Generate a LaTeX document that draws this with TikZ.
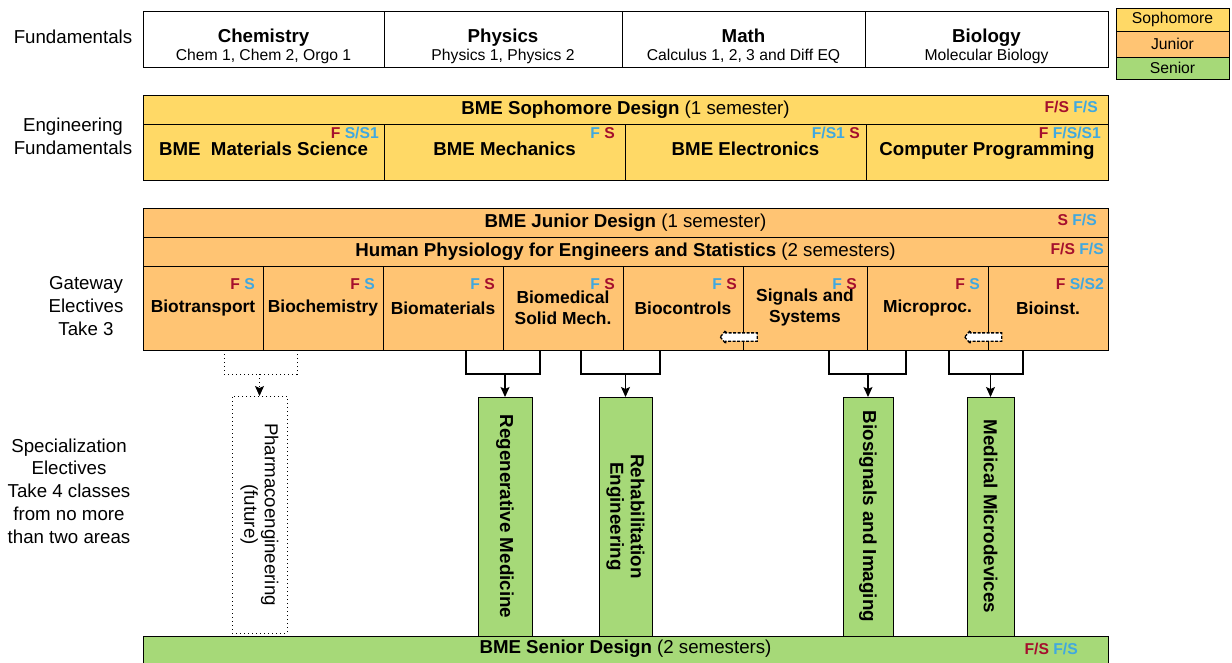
\documentclass[tikz,border=0pt]{standalone}
\usepackage{fontspec}
\setmainfont{Liberation Sans}
\usetikzlibrary{positioning, arrows.meta, shapes.arrows}
\definecolor{sophcol}{HTML}{FFD966}
\definecolor{junrcol}{HTML}{FFC473}
\definecolor{senrcol}{HTML}{A6D978}
\definecolor{fsred}{HTML}{A50F2D}
\definecolor{fsblue}{HTML}{40A8E0}
\tikzset{
    x=1pt, y=-1pt, % one unit is one pixel of the chart, y runs downwards
    >={Stealth[length=10pt, width=9pt, inset=2pt]}, % block arrow heads
    line width=1.1pt,
    box/.style={draw, inner sep=0pt, outer sep=0pt, anchor=north west, align=center,
        font=\bfseries\fontsize{18.7}{21}\selectfont}, % every course box
    soph/.style={box, fill=sophcol},
    junr/.style={box, fill=junrcol},
    gate/.style={junr, minimum height=84, font=\bfseries\fontsize{17.4}{21}\selectfont}, % gateway electives
    senr/.style={box, fill=senrcol},
    fund/.style={box, fill=white},
    legend/.style={box, fill=#1, font=\fontsize{15.7}{18}\selectfont},
    fs/.style={anchor=east, inner sep=0pt, font=\bfseries\fontsize{15.7}{18}\selectfont}, % semester offered
    side/.style={align=center, inner sep=0pt, font=\fontsize{18.7}{22.7}\selectfont}, % row titles on the left
    ftitle/.style={anchor=base, inner sep=0pt, font=\bfseries\fontsize{18.7}{21}\selectfont},
    fsub/.style={anchor=base, inner sep=0pt, font=\fontsize{15.7}{18}\selectfont},
    vtext/.style={rotate=-90, align=center, inner sep=0pt, font=\bfseries\fontsize{18.8}{20.5}\selectfont},
    link/.style={line width=1.2pt},
    dotlink/.style={line width=1pt, dash pattern=on 1pt off 3pt},
    prereq/.style={single arrow, draw, fill=white, inner xsep=0pt, inner ysep=3.5pt, shape border rotate=180,
        minimum height=37pt, single arrow head extend=2.5pt, single arrow tip angle=100,
        line width=1.3pt, dash pattern=on 3pt off 1.5pt},
}
\newcommand{\rd}[1]{\textcolor{fsred}{#1}}
\newcommand{\bl}[1]{\textcolor{fsblue}{#1}}

\begin{document}
\begin{tikzpicture}
\useasboundingbox (0,0) rectangle (1232,663);

% row titles
\node[side] (lfund) at (73,37)  {Fundamentals};
\node[side] (leng)  at (73,136) {Engineering\\Fundamentals};
\node[side] (lgate) at (86,306) {Gateway\\Electives\\Take 3};
\node[side] (lspec) at (69,491) {Specialization\\Electives\\Take 4 classes\\from no more\\than two areas};

% legend
\node[legend=sophcol, minimum width=113, minimum height=23] (lsoph) at (1116,8)  {Sophomore};
\node[legend=junrcol, minimum width=113, minimum height=26] (ljunr) at (1116,31) {Junior};
\node[legend=senrcol, minimum width=113, minimum height=22] (lsenr) at (1116,57) {Senior};

% fundamentals
\node[fund, minimum width=241, minimum height=56] (chem) at (143,11) {};
\node[fund, minimum width=238, minimum height=56] (phys) at (384,11) {};
\node[fund, minimum width=243, minimum height=56] (math) at (622,11) {};
\node[fund, minimum width=243, minimum height=56] (biol) at (865,11) {};
\node[ftitle] (chemt) at (263.5,43) {Chemistry};
\node[fsub]   (chems) at (263.5,61) {Chem 1, Chem 2, Orgo 1};
\node[ftitle] (physt) at (503,43)   {Physics};
\node[fsub]   (physs) at (503,61)   {Physics 1, Physics 2};
\node[ftitle] (matht) at (743.5,43) {Math};
\node[fsub]   (maths) at (743.5,61) {Calculus 1, 2, 3 and Diff EQ};
\node[ftitle] (biolt) at (986.5,43) {Biology};
\node[fsub]   (biols) at (986.5,61) {Molecular Biology};

% engineering fundamentals
\node[soph, minimum width=965, minimum height=29] (sophd) at (143,95) {BME Sophomore Design \mdseries(1 semester)};
\node[soph, minimum width=241, minimum height=56, text depth=6pt] (matsci) at (143,124) {BME\ \ Materials Science};
\node[soph, minimum width=241, minimum height=56, text depth=6pt] (mech)   at (384,124) {BME Mechanics};
\node[soph, minimum width=241, minimum height=56, text depth=6pt] (elec)   at (625,124) {BME Electronics};
\node[soph, minimum width=242, minimum height=56, text depth=6pt] (comp)   at (866,124) {Computer Programming};
\node[fs] (sophfs) at (1098,107) {\rd{F/S} \bl{F/S}};
\node[fs] (matfs)  at (379,133)  {\rd{F} \bl{S/S1}};
\node[fs] (mechfs) at (615,133)  {\bl{F} \rd{S}};
\node[fs] (elecfs) at (860,133)  {\bl{F/S1} \rd{S}};
\node[fs] (compfs) at (1101,133) {\rd{F} \bl{F/S/S1}};

% gateway electives
\node[junr, minimum width=965, minimum height=29] (junrd) at (143,208) {BME Junior Design \mdseries(1 semester)};
\node[junr, minimum width=965, minimum height=29] (physio) at (143,237) {Human Physiology for Engineers and Statistics \mdseries(2 semesters)};
\node[gate, minimum width=120] (btrans) at (143,266) {Biotransport};
\node[gate, minimum width=120] (bchem)  at (263,266) {Biochemistry};
\node[gate, minimum width=120] (bmat)   at (383,266) {Biomaterials};
\node[gate, minimum width=120] (bsolid) at (503,266) {Biomedical\\Solid Mech.};
\node[gate, minimum width=120] (bctrl)  at (623,266) {Biocontrols};
\node[gate, minimum width=124] (sigsys) at (743,266) {Signals and\\Systems};
\node[gate, minimum width=121] (mproc)  at (867,266) {Microproc.};
\node[gate, minimum width=120] (binst)  at (988,266) {Bioinst.};
\node[fs] (junfs)  at (1097,220) {\rd{S} \bl{F/S}};
\node[fs] (physfs) at (1104,249) {\rd{F/S} \bl{F/S}};
\node[fs] (btfs) at (255,284)  {\rd{F} \bl{S}};
\node[fs] (bcfs) at (375,284)  {\rd{F} \bl{S}};
\node[fs] (bmfs) at (495,284)  {\bl{F} \rd{S}};
\node[fs] (bsfs) at (615,284)  {\bl{F} \rd{S}};
\node[fs] (ctfs) at (737,284)  {\bl{F} \rd{S}};
\node[fs] (ssfs) at (857,284)  {\bl{F} \rd{S}};
\node[fs] (mpfs) at (980,284)  {\rd{F} \bl{S}};
\node[fs] (bifs) at (1104,284) {\rd{F} \bl{S/S2}};
\node[prereq] (pre1) at (740.5,337) {};
\node[prereq] (pre2) at (985,337) {};

% senior design
\node[senr, minimum width=965, minimum height=40] (senrd) at (143,636) {};
\node[inner sep=0pt, font=\bfseries\fontsize{18.7}{21}\selectfont] (senrt) at (625.5,649) {BME Senior Design \mdseries(2 semesters)};
\node[fs] (senfs) at (1078,649) {\rd{F/S} \bl{F/S}};

% specialization electives
\node[box, dotlink, minimum width=55, minimum height=237] (pharma) at (232,396) {};
\node[senr, minimum width=54, minimum height=239] (regen)  at (478,397) {};
\node[senr, minimum width=53, minimum height=239] (rehab)  at (599,397) {};
\node[senr, minimum width=50, minimum height=239] (biosig) at (843,397) {};
\node[senr, minimum width=47, minimum height=239] (medic)  at (967,397) {};
\node[vtext, font=\fontsize{18.7}{20.5}\selectfont] (pharmat) at (pharma) {Pharmacoengineering\\(future)};
\node[vtext] (regent)  at (regen)  {Regenerative Medicine};
\node[vtext] (rehabt)  at (rehab)  {Rehabilitation\\Engineering};
\node[vtext] (biosigt) at (biosig) {Biosignals and Imaging};
\node[vtext] (medict)  at (medic)  {Medical Microdevices};

% which electives lead to which area
\coordinate (ph1) at (224,350);  \coordinate (ph2) at (297,350);  \coordinate (phm) at (259.5,374);
\coordinate (rg1) at (466,350);  \coordinate (rg2) at (540,350);  \coordinate (rgm) at (505,374);
\coordinate (rh1) at (581,350);  \coordinate (rh2) at (660,350);  \coordinate (rhm) at (625.5,374);
\coordinate (bs1) at (829,350);  \coordinate (bs2) at (906,350);  \coordinate (bsm) at (868,374);
\coordinate (md1) at (949,350);  \coordinate (md2) at (1023,350); \coordinate (mdm) at (990.5,374);
\draw[dotlink] (ph1) -- ++(0,24) -| (ph2);
\draw[dotlink, ->] (phm) -- (pharma.north);
\draw[link] (rg1) -- ++(0,24) -| (rg2);
\draw[link, ->] (rgm) -- (regen.north);
\draw[link] (rh1) -- ++(0,24) -| (rh2);
\draw[link, ->] (rhm) -- (rehab.north);
\draw[link] (bs1) -- ++(0,24) -| (bs2);
\draw[link, ->] (bsm) -- (biosig.north);
\draw[link] (md1) -- ++(0,24) -| (md2);
\draw[link, ->] (mdm) -- (medic.north);
\end{tikzpicture}
\end{document}
